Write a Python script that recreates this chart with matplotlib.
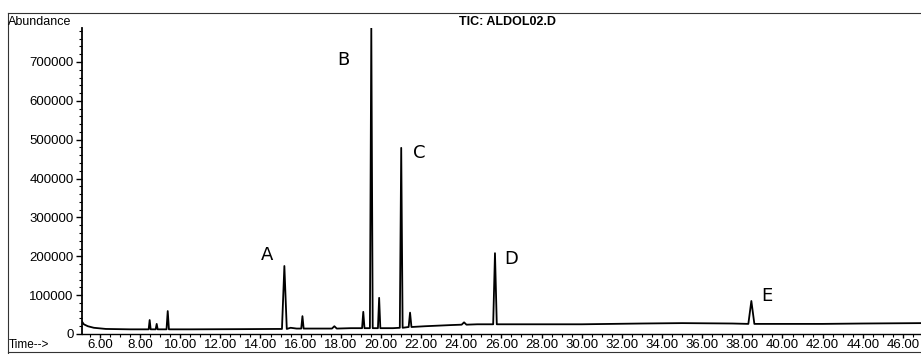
import matplotlib
matplotlib.use("Agg")
import matplotlib.pyplot as plt
from matplotlib.ticker import MultipleLocator, FuncFormatter
from matplotlib.lines import Line2D

plt.rcParams["font.family"] = ["Liberation Sans", "DejaVu Sans"]

# ---- data ----
# baseline (time in min, abundance)
base_t = [5.11, 5.2, 5.4, 5.7, 6.3, 7.5, 10.5, 13.0, 14.8, 15.5, 15.8, 17.0,
          18.5, 20.3, 20.6, 22.2, 23.5, 24.8, 27.0, 30.0, 33.0, 35.0, 37.5,
          39.5, 42.0, 44.0, 46.9]
base_y = [32000, 25000, 20000, 16000, 13000, 12000, 12000, 12500, 13000, 16000,
          14000, 14000, 15000, 15000, 15000, 20000, 23000, 25000, 25000, 25000,
          27000, 28000, 27000, 26000, 26000, 27000, 28000]

# peaks: retention time, apex height, level at the foot, half width at base
peak_rt = [8.48, 8.83, 9.38, 15.19, 16.09, 17.68, 19.12, 19.52, 19.91, 21.01,
           21.45, 24.14, 25.68, 38.45]
peak_h = [36000, 26000, 59000, 175000, 46000, 20000, 57000, 787000, 93000,
          479000, 55000, 30000, 208000, 85000]
peak_foot = [12000, 12000, 12000, 13000, 14000, 14000, 15000, 15000, 15000,
             16000, 18000, 24000, 25000, 26000]
peak_w = [0.05, 0.05, 0.06, 0.12, 0.06, 0.12, 0.06, 0.07, 0.06, 0.07,
          0.07, 0.12, 0.09, 0.15]

# labelled compounds
labels = ["A", "B", "C", "D", "E"]
label_peak = [3, 7, 9, 12, 13]
label_off = [(-17, 11), (-28, -32), (18, -5), (16, -6), (16, 5)]  # pixels

# ---- build trace vertices ----
pts = list(zip(base_t, base_y))
for rt, h, f, w in zip(peak_rt, peak_h, peak_foot, peak_w):
    pts += [(rt - w, f), (rt, h), (rt + w, f)]
pts.sort()
t = [p[0] for p in pts]
y = [p[1] for p in pts]

fig = plt.figure(figsize=(9.21, 3.54), dpi=100)
ax = fig.add_axes([82 / 921, 20 / 354, 1 - 82 / 921, (334 - 28) / 354])

ax.plot(t, y, color="black", lw=1.3)

ax.set_xlim(5.11, 46.9)
ax.set_ylim(0, 787500)
ax.xaxis.set_major_locator(MultipleLocator(2))
ax.xaxis.set_minor_locator(MultipleLocator(0.5))
ax.yaxis.set_major_locator(MultipleLocator(100000))
ax.yaxis.set_minor_locator(MultipleLocator(20000))
ax.xaxis.set_major_formatter(FuncFormatter(lambda v, p: "%.2f" % v))
ax.yaxis.set_major_formatter(FuncFormatter(lambda v, p: "%d" % v))
ax.set_xticks([v for v in range(6, 47, 2)])

for s in ["top", "right"]:
    ax.spines[s].set_visible(False)
ax.spines["left"].set_linewidth(1.3)
ax.spines["bottom"].set_linewidth(1.0)
ax.tick_params(which="major", length=4, width=1, labelsize=9.5, pad=2)
ax.tick_params(axis="x", which="major", length=3, labelsize=9.5, pad=0.5)
ax.tick_params(which="minor", length=2.5, width=0.8)

for lab, i, off in zip(labels, label_peak, label_off):
    ax.annotate(lab, (peak_rt[i], peak_h[i]), xytext=off,
                textcoords="offset pixels", ha="center", va="center",
                fontsize=13, family=["DejaVu Sans"])

# header / footer texts
fig.text(8 / 921, 1 - 22 / 354, "Abundance", fontsize=9, va="center", ha="left")
fig.text(507 / 921, 1 - 22 / 354, "TIC: ALDOL02.D", fontsize=9, va="center",
         ha="center", weight="bold")
fig.text(9 / 921, 1 - 345 / 354, "Time-->", fontsize=8.5, va="center", ha="left")

# outer frame of the printout
frame = dict(color="#333333", lw=0.8, transform=fig.transFigure)
fig.add_artist(Line2D([8 / 921, 1], [1 - 13 / 354, 1 - 13 / 354], **frame))
fig.add_artist(Line2D([8 / 921, 8 / 921], [1 - 13 / 354, 0], **frame))
fig.add_artist(Line2D([8 / 921, 1], [1 - 352 / 354, 1 - 352 / 354], **frame))

fig.savefig("out.png", dpi=100)
